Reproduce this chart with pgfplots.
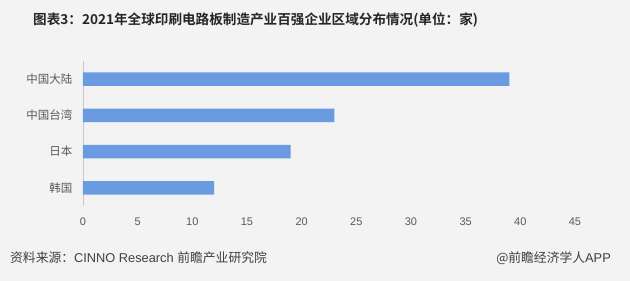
\documentclass[border=0pt]{standalone}
\usepackage{fontspec}
\setmainfont{Liberation Sans}
\newfontfamily\cjk{Noto Sans CJK SC}
\newfontfamily\cjkbold{Noto Sans CJK SC Bold}
\usepackage{pgfplots}
\pgfplotsset{compat=1.18}
\definecolor{bg}{HTML}{F3F3F3}
\definecolor{barblue}{HTML}{6A9BE0}
\definecolor{axisgray}{HTML}{C8C8C8}
\definecolor{ticktext}{HTML}{595959}
\definecolor{titletext}{HTML}{262626}
\definecolor{foottext}{HTML}{404040}
\begin{document}
\begin{tikzpicture}[x=1pt,y=1pt]
  % canvas
  \fill[bg] (0,0) rectangle (630,281);
  % title
  \node[anchor=west,text=titletext,inner sep=0pt] at (33,261)
    {\cjkbold\fontsize{13.6}{16}\selectfont 图表3：2021年全球印刷电路板制造产业百强企业区域分布情况(单位：家)};
  \begin{axis}[
      at={(83pt,75pt)}, anchor=south west,
      scale only axis, width=492pt, height=145pt,
      xbar, bar width=13.5pt,
      xmin=0, xmax=45, xtick={0,5,...,45},
      ymin=0.5, ymax=4.5, y dir=reverse,
      ytick={1,2,3,4},
      yticklabels={中国大陆,中国台湾,日本,韩国},
      yticklabel style={font=\cjk\fontsize{11.5}{13}\selectfont, text=ticktext, xshift=-7pt},
      xticklabel style={font=\fontsize{11}{13}\selectfont, text=ticktext, yshift=-8pt},
      /pgf/number format/assume math mode=true,
      axis lines=left,
      x axis line style={draw=none},
      y axis line style={draw=axisgray, -},
      xtick style={draw=none}, ytick style={draw=none},
      major tick length=0pt,
    ]
    \addplot[draw=none, fill=barblue] coordinates {(39,1) (23,2) (19,3) (12,4)};
  \end{axis}
  % source line
  \node[anchor=west,text=foottext,inner sep=0pt] at (10,23)
    {\fontsize{12.8}{14}\selectfont{\cjk 资料来源：}CINNO Research {\cjk 前瞻产业研究院}};
  \node[anchor=east,text=foottext,inner sep=0pt] at (611,23)
    {\fontsize{12.8}{14}\selectfont{\cjk @前瞻经济学人}APP};
\end{tikzpicture}
\end{document}
